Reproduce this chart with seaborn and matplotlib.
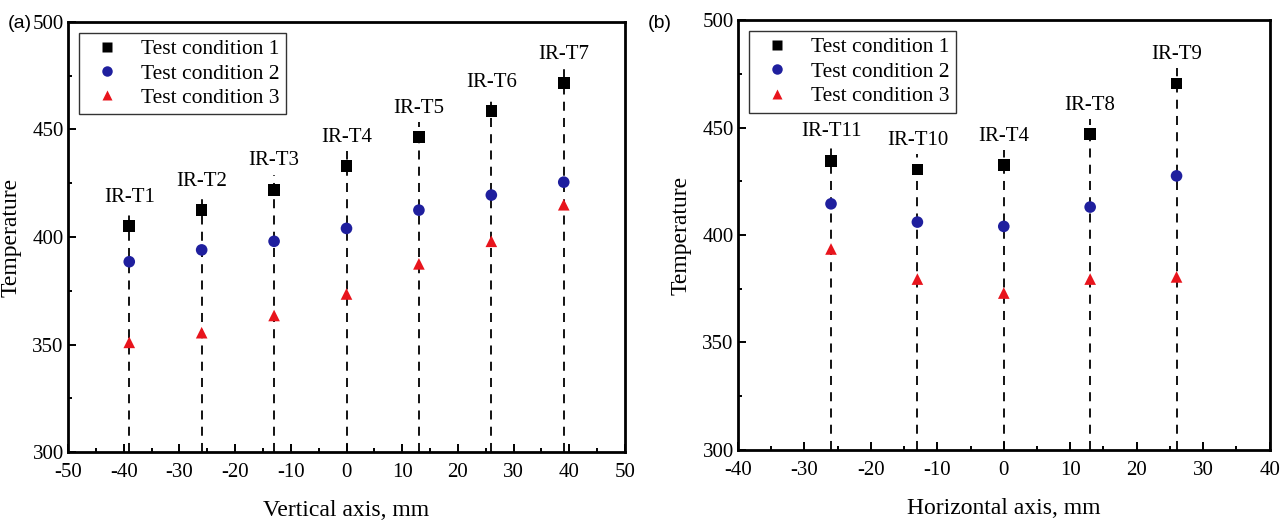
import matplotlib
matplotlib.use("Agg")
import matplotlib.pyplot as plt
from matplotlib.ticker import MultipleLocator
import seaborn as sns
import pandas as pd

# panel (a): vertical axis
pos_a = [-39, -26, -13, 0, 13, 26, 39]
names_a = ["IR-T1", "IR-T2", "IR-T3", "IR-T4", "IR-T5", "IR-T6", "IR-T7"]
c1_a = [405, 412.5, 422, 433, 446.5, 458.5, 471.5]
c2_a = [388.5, 394, 398, 404, 412.5, 419.5, 425.5]
c3_a = [351, 355.5, 363.5, 373.5, 387.5, 398, 415]

# panel (b): horizontal axis
pos_b = [-26, -13, 0, 13, 26]
names_b = ["IR-T11", "IR-T10", "IR-T4", "IR-T8", "IR-T9"]
c1_b = [434.5, 430.5, 432.5, 447, 470.5]
c2_b = [414.5, 406, 404, 413, 427.5]
c3_b = [393.5, 379.5, 373, 379.5, 380.5]

conds = ["Test condition 1", "Test condition 2", "Test condition 3"]
colors = {conds[0]: "black", conds[1]: "#1f1f9e", conds[2]: "#e8141c"}
marks = {conds[0]: "s", conds[1]: "o", conds[2]: "^"}

sns.set_theme(style="ticks", rc={"axes.edgecolor": "black", "text.color": "black",
                                 "xtick.color": "black", "ytick.color": "black",
                                 "axes.labelcolor": "black"})
plt.rcParams["font.family"] = ["Liberation Serif", "DejaVu Serif"]
plt.rcParams["axes.unicode_minus"] = False

fig = plt.figure(figsize=(12.85, 5.21), dpi=100)
ax_a = fig.add_axes([0.0529, 0.1324, 0.4335, 0.8254])
ax_b = fig.add_axes([0.5743, 0.1363, 0.4137, 0.8253])


def long_df(pos, c1, c2, c3):
    parts = []
    for name, vals in zip(conds, [c1, c2, c3]):
        parts.append(pd.DataFrame({"x": pos, "y": vals, "cond": name}))
    return pd.concat(parts, ignore_index=True)


def draw(ax, pos, names, c1, c2, c3, xlim, xlabel, tag, tag_x):
    df = long_df(pos, c1, c2, c3)
    tops = [v + 7 for v in c1]
    ax.vlines(pos, 300, tops, colors="black", linestyles=(0, (5, 4)), lw=1.3, zorder=1)
    sns.scatterplot(data=df, x="x", y="y", hue="cond", style="cond",
                    palette=colors, markers=marks, s=70, edgecolor="none",
                    ax=ax, zorder=3)
    for x, v, n in zip(pos, c1, names):
        ax.text(x, v + 9, n, ha="center", va="bottom", fontsize=15)
    ax.set_xlim(*xlim)
    ax.set_ylim(300, 500)
    ax.xaxis.set_major_locator(MultipleLocator(10))
    ax.xaxis.set_minor_locator(MultipleLocator(5))
    ax.yaxis.set_major_locator(MultipleLocator(50))
    ax.yaxis.set_minor_locator(MultipleLocator(25))
    ax.tick_params(which="both", direction="in", labelsize=15, width=1.4)
    ax.tick_params(which="major", length=6)
    ax.tick_params(which="minor", length=3)
    ax.tick_params(axis="x", which="major", pad=8)
    ax.tick_params(axis="y", which="major", pad=3)
    for sp in ax.spines.values():
        sp.set_linewidth(2.0)
    ax.set_xlabel(xlabel, fontsize=17, labelpad=13)
    ax.set_ylabel("Temperature", fontsize=17, labelpad=8)
    leg = ax.legend(loc="upper left", fontsize=15.5, frameon=True, fancybox=False,
                    edgecolor="black", handletextpad=0.6, borderpad=0.3,
                    labelspacing=0.2, markerscale=0.9, borderaxespad=0.5)
    leg.get_frame().set_linewidth(1.0)
    fig.text(tag_x, 0.955, tag, fontsize=14,
             family=["Liberation Sans", "DejaVu Sans"], ha="left", va="center")


draw(ax_a, pos_a, names_a, c1_a, c2_a, c3_a, (-50, 50), "Vertical axis, mm", "(a)", 0.006)
draw(ax_b, pos_b, names_b, c1_b, c2_b, c3_b, (-40, 40), "Horizontal axis, mm", "(b)", 0.504)

fig.savefig("out.png", dpi=100)
